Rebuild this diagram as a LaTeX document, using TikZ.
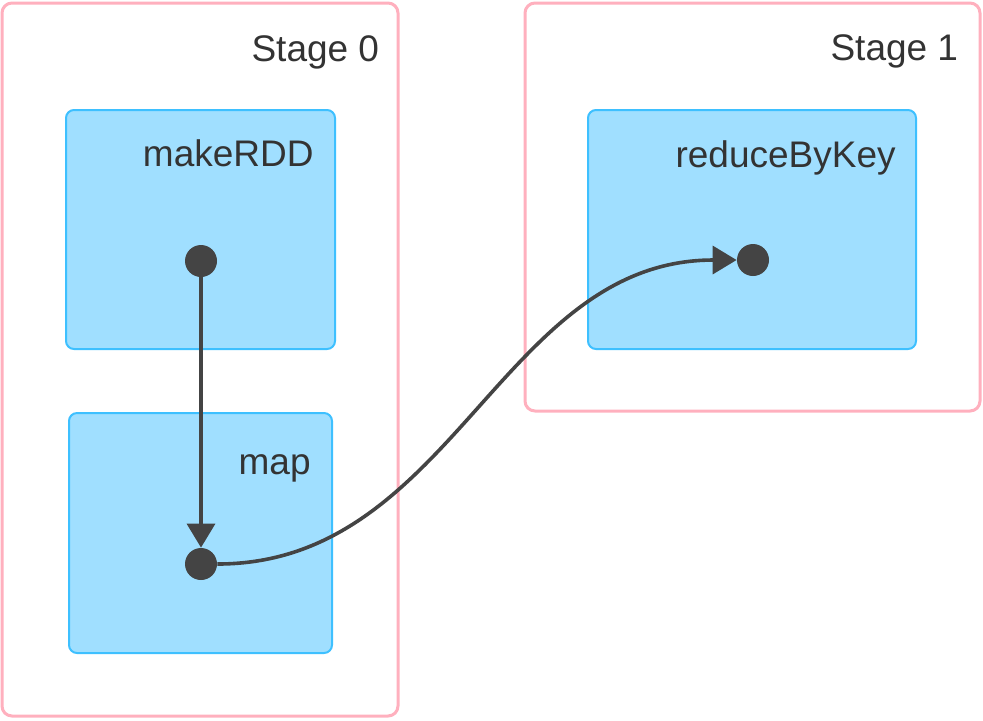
\documentclass[tikz,border=0pt]{standalone}
\usepackage{fontspec}
\setmainfont{Liberation Sans}
\usetikzlibrary{arrows.meta, positioning}
\definecolor{stagepink}{HTML}{FFB0BE}
\definecolor{opfill}{HTML}{A0DFFF}
\definecolor{opline}{HTML}{3EC0FF}
\definecolor{dotgray}{HTML}{444444}
\definecolor{txtgray}{HTML}{333333}
\tikzset{
  stagebox/.style={rectangle, draw=stagepink, fill=white, line width=1.5pt, rounded corners=5pt},
  opbox/.style={rectangle, draw=opline, fill=opfill, line width=1pt, rounded corners=4pt},
  lbl/.style={anchor=base east, inner sep=0pt, text=txtgray, font=\fontsize{18.5}{22}\selectfont},
  rdd/.style={circle, fill=dotgray, inner sep=0pt, minimum size=16pt},
  line/.style={-{Triangle[length=12pt,width=14pt]}, draw=dotgray, line width=1.8pt}
}

\begin{document}
\begin{tikzpicture}[x=0.5pt, y=-0.5pt]
    \useasboundingbox (0,0) rectangle (983,720);
    % stages
    \node[stagebox, minimum width=198pt, minimum height=356.5pt] (s0) at (200,359.5) {};
    \node[stagebox, minimum width=227.5pt, minimum height=204pt] (s1) at (752.5,207) {};
    \node[lbl] (s0lbl) at ([shift={(-20,60)}]s0.north east) {Stage 0};
    \node[lbl] (s1lbl) at ([shift={(-23,59)}]s1.north east) {Stage 1};
    % operations
    \node[opbox, minimum width=134.5pt, minimum height=119.5pt] (mk) at (200.5,229.5) {};
    \node[opbox, minimum width=131.5pt, minimum height=120pt] (mp) at (200.5,533) {};
    \node[opbox, minimum width=164pt, minimum height=119.5pt] (rb) at (752,229.5) {};
    \node[lbl] (mklbl) at ([shift={(-22,57)}]mk.north east) {makeRDD};
    \node[lbl] (mplbl) at ([shift={(-22,62)}]mp.north east) {map};
    \node[lbl] (rblbl) at ([shift={(-21,58)}]rb.north east) {reduceByKey};
    % rdds
    \node[rdd] (d0) at (201,261) {};
    \node[rdd] (d1) at (201,564) {};
    \node[rdd] (d2) at (753,260) {};
    \draw[line] (d0) -- (d1);
    \draw[line] (d1) to[out=0, in=180] (d2);
  \end{tikzpicture}
\end{document}
